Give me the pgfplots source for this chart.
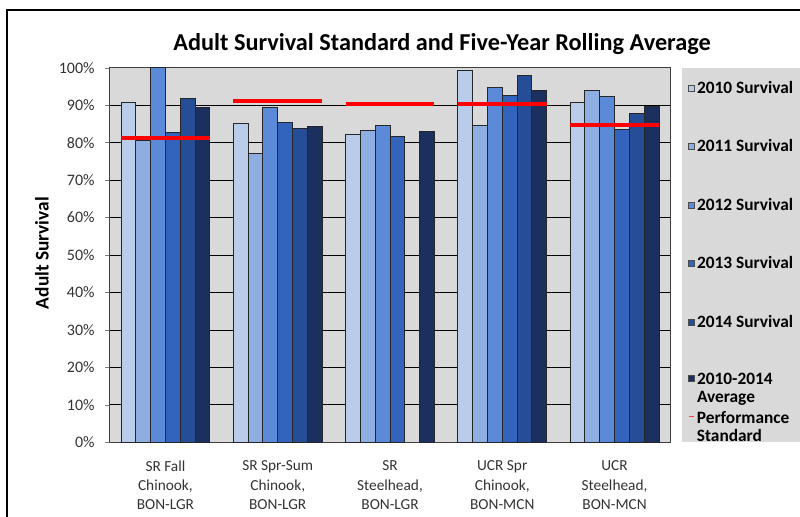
\documentclass[border=0pt]{standalone}
\usepackage{pgfplots}
\usepackage{pgfplotstable}
\pgfplotsset{compat=1.18}
\usepackage{fontspec}
\setmainfont{Carlito}

\definecolor{plotgray}{HTML}{D9D9D9}
\definecolor{c2010}{HTML}{B9CDEB}
\definecolor{c2011}{HTML}{8EADE0}
\definecolor{c2012}{HTML}{5B8AD8}
\definecolor{c2013}{HTML}{3264BE}
\definecolor{c2014}{HTML}{254E96}
\definecolor{cavg}{HTML}{1B305E}
\definecolor{stdred}{HTML}{FF0000}

% survival by stock (percent); 2014 has no value for SR Steelhead
\pgfplotstableread{
x y2010 y2011 y2012 y2013 y2014 yavg
0 90.7 80.5 100.0 82.6 91.7 89.4
1 85.2 77.1 89.4 85.5 83.7 84.2
2 82.3 83.2 84.5 81.7 nan 82.9
3 99.3 84.5 94.6 92.5 98.0 93.9
4 90.7 93.9 92.3 83.6 87.8 89.7
}\survival

% performance standard, one segment per stock
\pgfplotstableread{
x std
-0.396 81.3
0.396 81.3
0.5 nan
0.604 91.2
1.396 91.2
1.5 nan
1.604 90.3
2.396 90.3
2.5 nan
2.604 90.3
3.396 90.3
3.5 nan
3.604 84.6
4.396 84.6
}\standard

\begin{document}
\begin{tikzpicture}
% outer frame (1px = 0.75pt)
\draw[line width=1.5pt] (5.475pt,-4pt) -- (5.475pt,380.25pt) -- (604pt,380.25pt);
% legend panel
\fill[plotgray] (511.7pt,56.5pt) rectangle (604pt,336.75pt);

\begin{axis}[
  at={(81.975pt,56.025pt)}, anchor=south west,
  width=421.05pt, height=280.95pt, scale only axis,
  xmin=-0.5, xmax=4.5, ymin=0, ymax=100,
  axis background/.style={fill=plotgray},
  axis line style={draw=black!75, line width=0.8pt},
  ybar=0pt, bar width=0.132,
  every axis plot/.append style={draw=black!85, line width=0.7pt},
  xtick={0,1,2,3,4},
  xticklabels={{SR Fall\\Chinook,\\BON-LGR}, {SR Spr-Sum\\Chinook,\\BON-LGR},
    {SR\\Steelhead,\\BON-LGR}, {UCR Spr\\Chinook,\\BON-MCN}, {UCR\\Steelhead,\\BON-MCN}},
  x tick label style={align=center, font=\fontsize{11.5}{14.3}\selectfont, text=black!80, yshift=-7.5pt},
  major x tick style={draw=none},
  extra x ticks={-0.5,0.5,1.5,2.5,3.5,4.5},
  extra x tick labels={},
  extra x tick style={tick align=outside, major tick length=4pt,
    major tick style={draw=black!75, line width=0.8pt}},
  ytick={0,10,...,100},
  yticklabel={\pgfmathprintnumber{\tick}\%},
  /pgf/number format/assume math mode=true,
  y tick label style={font=\fontsize{12}{14}\selectfont, text=black!80, xshift=-4.5pt},
  ytick pos=left, tick align=outside,
  major tick length=3pt,
  ymajorgrids, grid style={draw=black, line width=0.6pt},
  ylabel={\textbf{Adult Survival}},
  ylabel style={at={(axis description cs:-0.1199,0.505)}, anchor=center,
    font=\fontsize{14.5}{17}\selectfont},
  title={\textbf{Adult Survival Standard and Five-Year Rolling Average}},
  title style={at={(axis description cs:0.5926,1)}, anchor=center, yshift=11.8pt,
    font=\fontsize{18.2}{21}\selectfont},
  legend cell align=left,
  legend image code/.code={\draw[#1,line width=0.5pt,draw=black!70] (0pt,-2.3pt) rectangle (4.6pt,2.3pt);},
  legend style={at={(axis description cs:1.0308,0.9754)}, anchor=north west,
    draw=none, fill=none, inner sep=0pt, row sep=27.2pt,
    font=\fontsize{13}{13}\selectfont\bfseries,
    cells={align=left},
    nodes={inner xsep=1.5pt, inner ysep=3pt}},
]
\addplot[fill=c2010] table[x=x,y=y2010] {\survival};
\addplot[fill=c2011] table[x=x,y=y2011] {\survival};
\addplot[fill=c2012] table[x=x,y=y2012] {\survival};
\addplot[fill=c2013] table[x=x,y=y2013] {\survival};
\addplot[fill=c2014] table[x=x,y=y2014] {\survival};
\addplot[fill=cavg,
  legend image code/.code={\draw[fill=cavg,line width=0.5pt,draw=black!70] (0pt,5.2pt) rectangle (4.6pt,9.8pt);}]
  table[x=x,y=yavg] {\survival};
\legend{2010 Survival,2011 Survival,2012 Survival,2013 Survival,2014 Survival,{2010-2014\\Average}}
\end{axis}

\begin{axis}[
  at={(81.975pt,56.025pt)}, anchor=south west,
  width=421.05pt, height=280.95pt, scale only axis,
  xmin=-0.5, xmax=4.5, ymin=0, ymax=100,
  axis lines=none, unbounded coords=jump,
  legend cell align=left,
  legend image code/.code={\draw[stdred!75,line width=1pt] (0pt,8.3pt) -- (4pt,8.3pt);},
  legend style={at={(axis description cs:1.0308,0.093)}, anchor=north west,
    draw=none, fill=none, inner sep=0pt,
    font=\fontsize{13}{13}\selectfont\bfseries,
    cells={align=left},
    nodes={inner xsep=1.5pt, inner ysep=3pt}},
]
\addplot[stdred, line width=3pt] table[x=x,y=std] {\standard};
\legend{{Performance\\Standard}}
\end{axis}
\pgfresetboundingbox
\useasboundingbox (0pt,0pt) rectangle (600pt,387.75pt);
\end{tikzpicture}
\end{document}
